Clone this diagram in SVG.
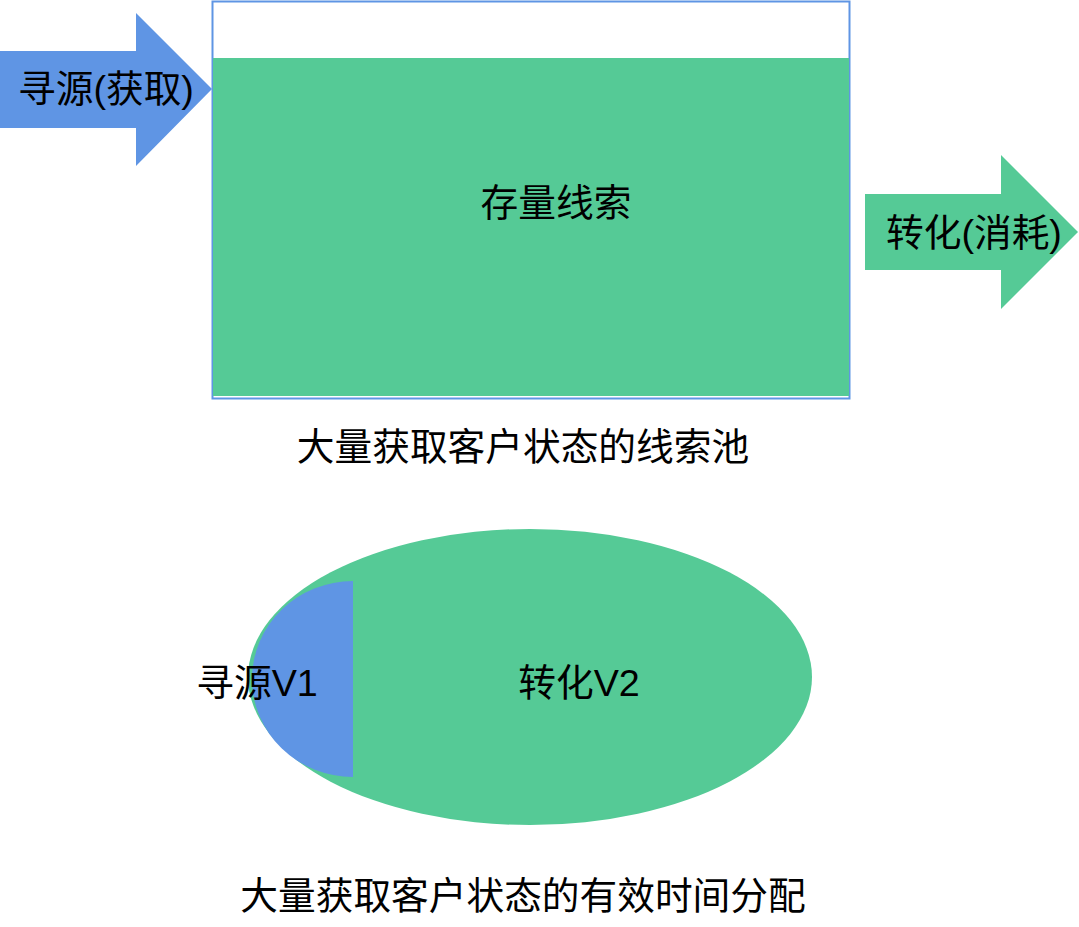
<svg xmlns="http://www.w3.org/2000/svg" width="1079" height="927" viewBox="0 0 1079 927">
<style>
.t{font-family:"Liberation Sans","Noto Sans CJK SC",sans-serif;font-size:37.7px;fill:#000;text-anchor:middle;dominant-baseline:central}
.g{fill:#55ca96}
.b{fill:#5f95e4}
</style>
<rect width="1079" height="927" fill="#fff"/>
<g id="pool">
<rect x="212.5" y="1.5" width="637" height="397" fill="#fff" stroke="#5f95e4" stroke-width="2"/>
<rect class="g" x="213" y="58" width="636" height="338"/>
<text class="t" x="556" y="203">存量线索</text>
</g>
<g id="source-arrow">
<polygon class="b" points="0,51 136,51 136,13 212,89 136,166 136,128 0,128"/>
<text class="t" x="106" y="89">寻源(获取)</text>
</g>
<g id="convert-arrow">
<polygon class="g" points="865,194 1001,194 1001,155 1078,232 1001,309 1001,270 865,270"/>
<text class="t" x="974" y="233">转化(消耗)</text>
</g>
<text class="t" x="523" y="447">大量获取客户状态的线索池</text>
<g id="time-ellipse">
<ellipse class="g" cx="530" cy="677" rx="282" ry="148"/>
<path class="b" d="M353,581 A101,98 0 0 0 353,777 Z"/>
<text class="t" x="257" y="683">寻源V1</text>
<text class="t" x="579" y="683">转化V2</text>
</g>
<text class="t" x="523" y="896">大量获取客户状态的有效时间分配</text>
</svg>
